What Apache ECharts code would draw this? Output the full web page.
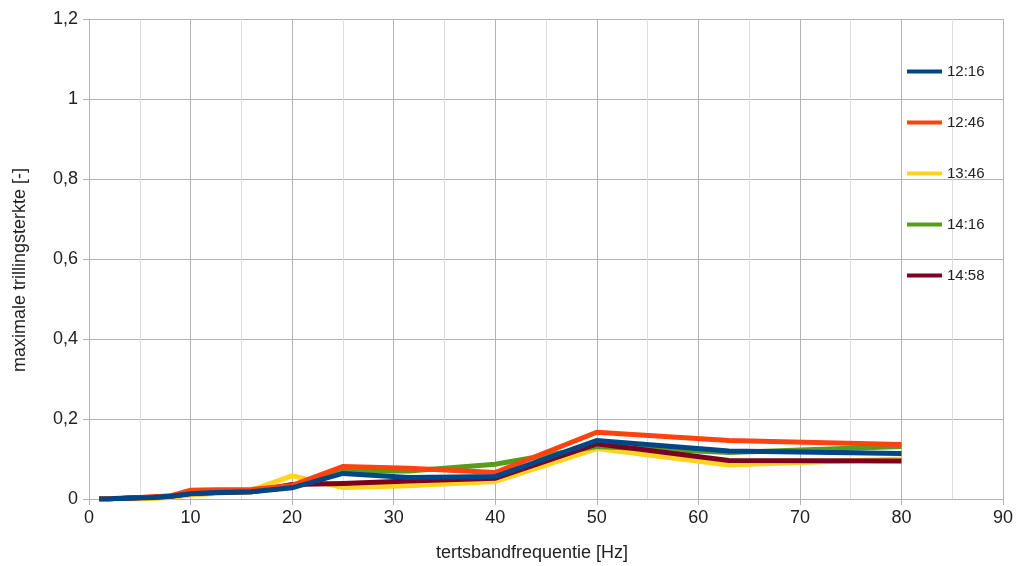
<!DOCTYPE html>
<html>
<head>
<meta charset="utf-8">
<script src="https://cdn.jsdelivr.net/npm/echarts@6/dist/echarts.min.js"></script>
<style>html,body{margin:0;padding:0;background:#fff}#c{width:1016px;height:566px}</style>
</head>
<body>
<div id="c"></div>
<script>
const freqs = [1,1.25,1.6,2,2.5,3.15,4,5,6.3,8,10,12.5,16,20,25,31.5,40,50,63,80];
const seriesNames = ['12:16','12:46','13:46','14:16','14:58'];
const s1216 = [0,0,0,0,0.001,0.001,0.002,0.003,0.004,0.007,0.013,0.016,0.018,0.028,0.064,0.054,0.056,0.146,0.120,0.114];
const s1246 = [0,0,0,0,0.001,0.001,0.002,0.003,0.005,0.008,0.022,0.023,0.024,0.034,0.081,0.077,0.066,0.167,0.146,0.136];
const s1346 = [0,0,0,0,0,0,0,0,0.001,0.004,0.010,0.014,0.022,0.058,0.029,0.033,0.044,0.126,0.085,0.100];
const s1416 = [0,0,0,0,0.001,0.001,0.002,0.003,0.004,0.006,0.014,0.016,0.018,0.030,0.070,0.070,0.087,0.131,0.116,0.131];
const s1458 = [0,0,0,0,0.001,0.002,0.003,0.004,0.005,0.007,0.014,0.016,0.018,0.036,0.039,0.045,0.052,0.138,0.096,0.095];
const xTicks = {min:0, max:90, interval:10};
const yTicks = {min:0, max:1.2, interval:0.2};
const colors = ['#004586','#ff420e','#ffd320','#579d1c','#7e0021'];
const values = [s1216, s1246, s1346, s1416, s1458];
const zs = [6,5,2,3,4];

const FONT = 'Liberation Sans';
const TXT = '#222';
const chart = echarts.init(document.getElementById('c'), null, {renderer:'canvas'});
chart.setOption({
  animation:false,
  textStyle:{fontFamily:FONT},
  grid:{left:89, right:13, top:19, bottom:67, containLabel:false, outerBoundsMode:'none'},
  legend:{
    orient:'vertical', left:902, top:59,
    itemWidth:35, itemHeight:4, itemGap:36, icon:'rect',
    textStyle:{fontSize:15, color:TXT, fontFamily:FONT},
    data:seriesNames
  },
  xAxis:{
    type:'value', min:xTicks.min, max:xTicks.max, interval:xTicks.interval,
    name:'tertsbandfrequentie [Hz]', nameLocation:'middle', nameGap:45,
    nameTextStyle:{fontSize:18, color:TXT, fontFamily:FONT, padding:[0,28,0,0]},
    axisLine:{show:true, lineStyle:{color:'#b3b3b3', width:1}},
    axisTick:{show:true, length:6, lineStyle:{color:'#b3b3b3'}},
    axisLabel:{fontSize:18, color:TXT, margin:10, fontFamily:FONT},
    splitLine:{show:true, lineStyle:{color:'#b3b3b3', width:1}},
    minorTick:{show:false, splitNumber:2},
    minorSplitLine:{show:true, lineStyle:{color:'#dddddd', width:1}}
  },
  yAxis:{
    type:'value', min:yTicks.min, max:yTicks.max, interval:yTicks.interval,
    name:'maximale trillingsterkte [-]', nameLocation:'middle', nameGap:60, nameRotate:90,
    nameTextStyle:{fontSize:18, color:TXT, fontFamily:FONT, padding:[0,22,0,0]},
    axisLine:{show:true, lineStyle:{color:'#b3b3b3', width:1}},
    axisTick:{show:true, length:6, lineStyle:{color:'#b3b3b3'}},
    axisLabel:{fontSize:18, color:TXT, margin:11, fontFamily:FONT,
      formatter:v=>String(Math.round(v*10)/10).replace('.',',')},
    splitLine:{show:true, lineStyle:{color:'#b3b3b3', width:1}}
  },
  series: seriesNames.map((n,i)=>({
    name:n, type:'line', showSymbol:false, symbol:'none', z:zs[i],
    color:colors[i],
    lineStyle:{width:5, color:colors[i], cap:'butt', join:'miter'},
    data: freqs.map((f,j)=>[f, values[i][j]])
  }))
});
</script>
</body>
</html>
